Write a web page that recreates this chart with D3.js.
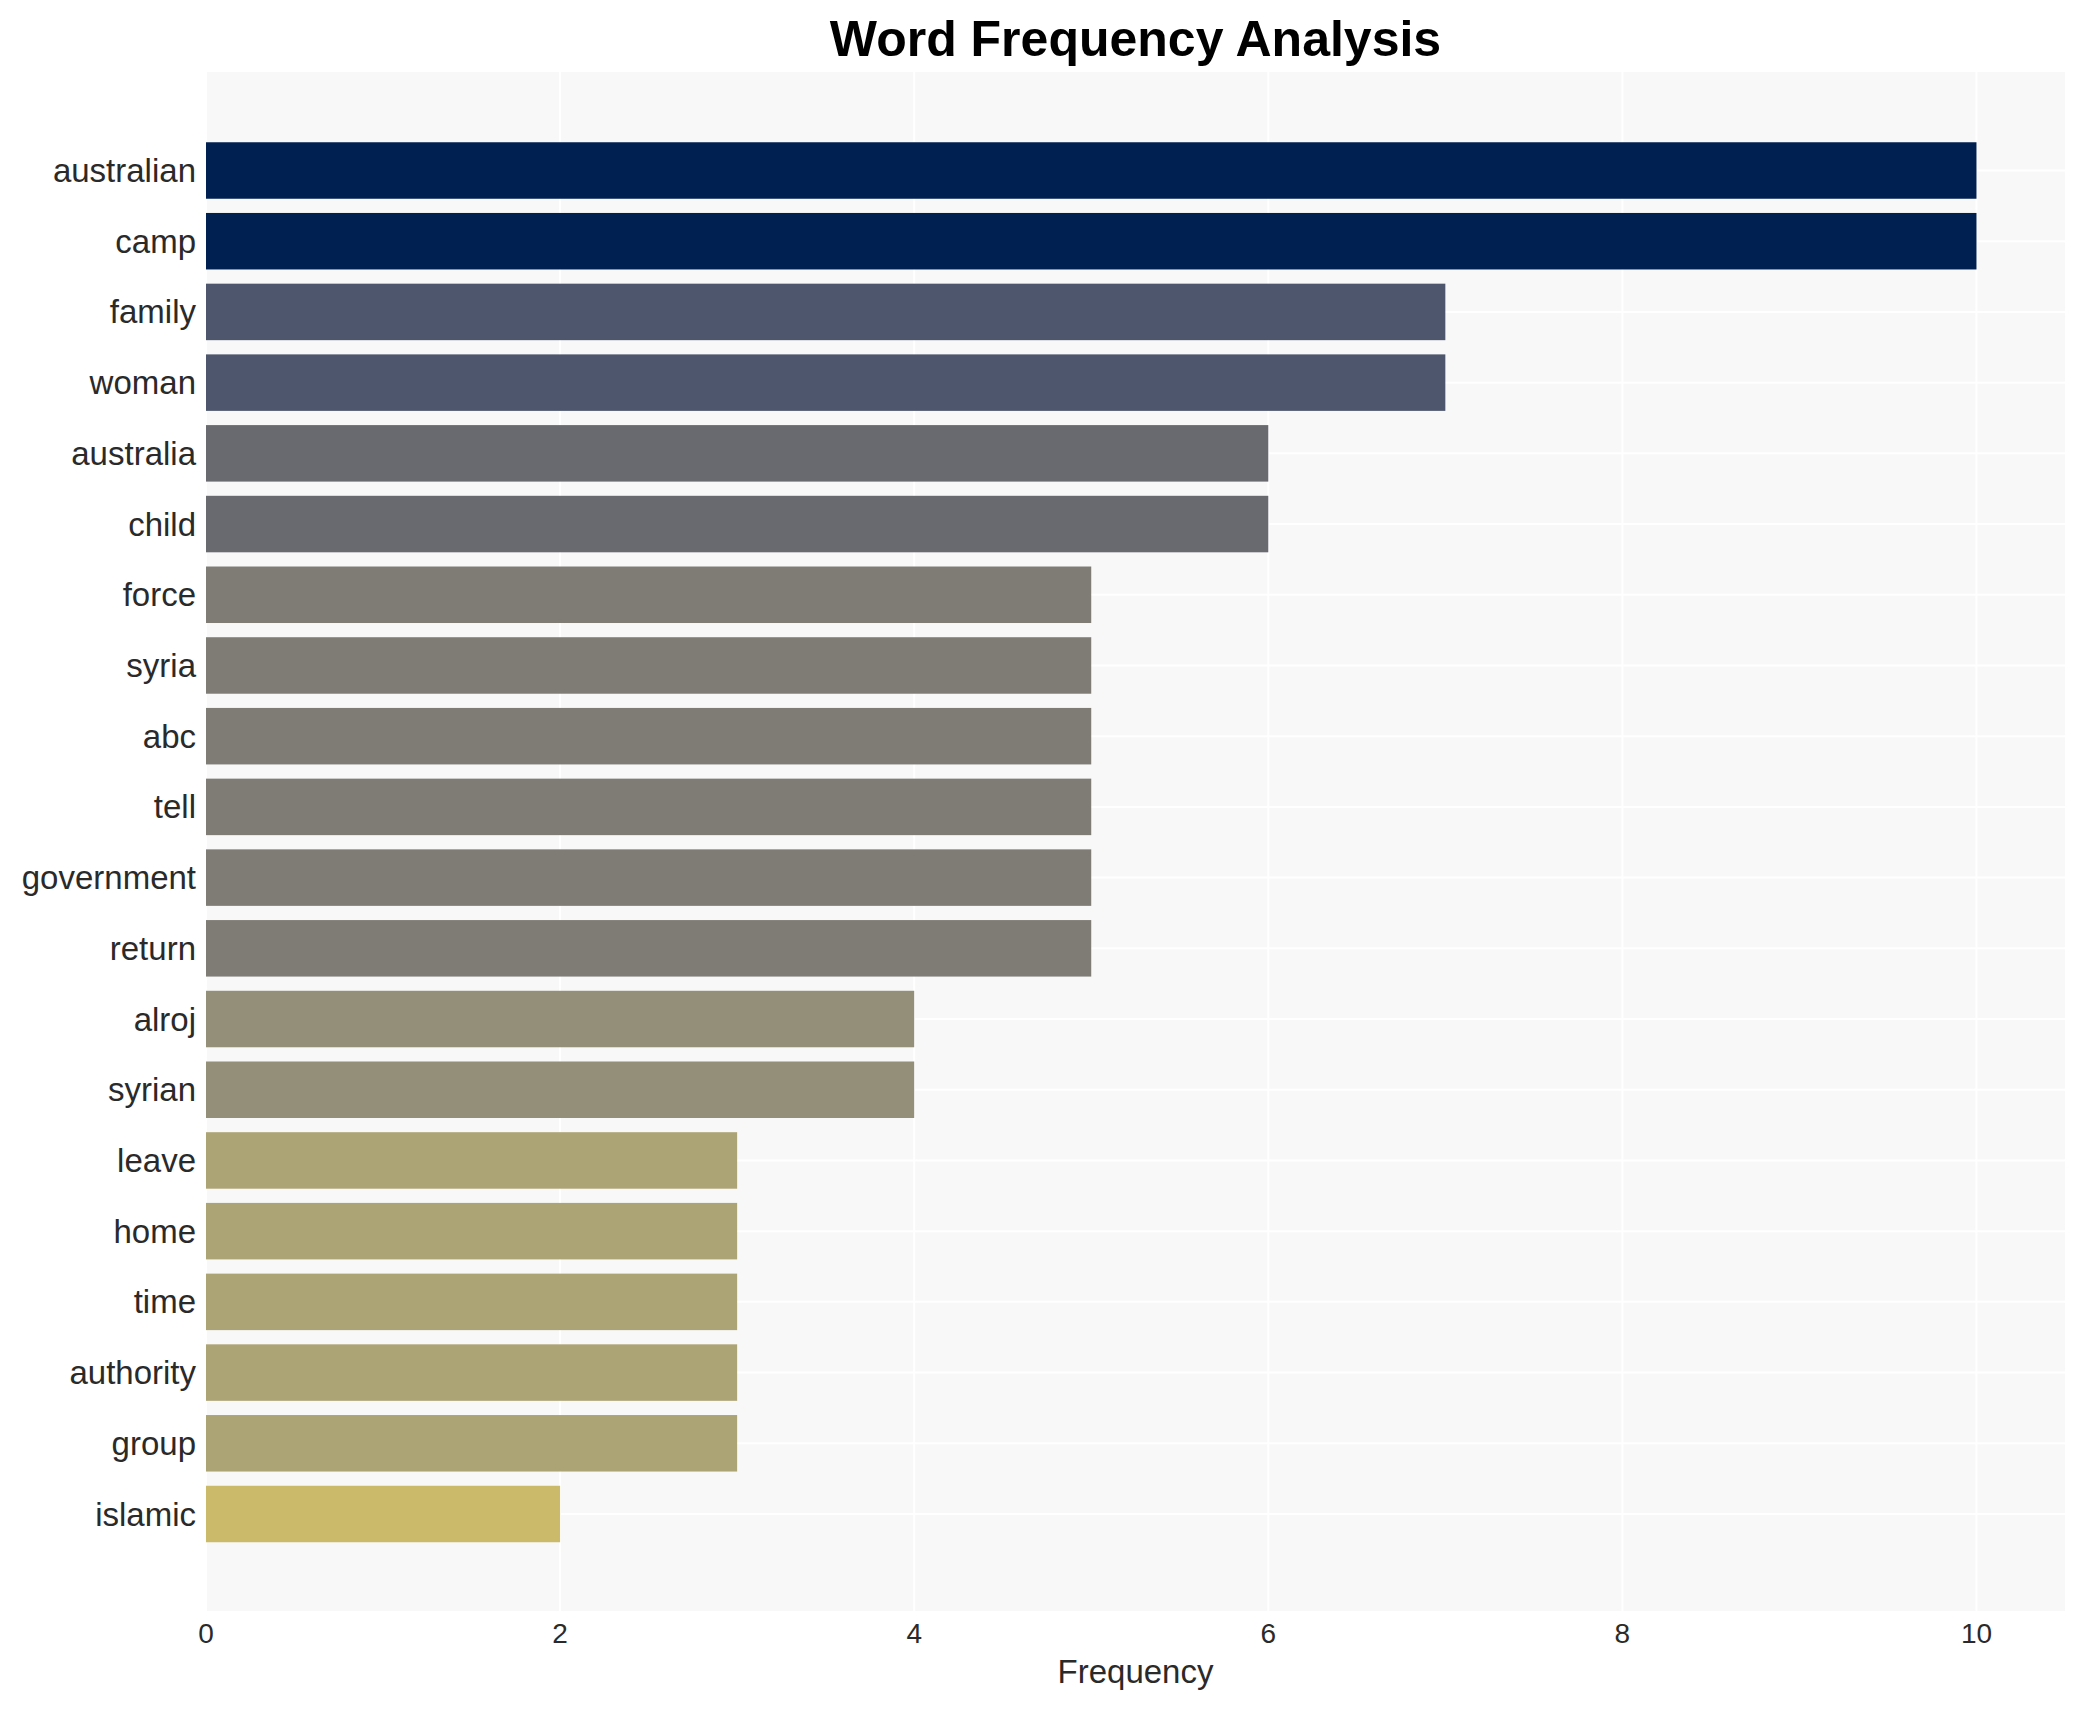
<!DOCTYPE html>
<html><head><meta charset="utf-8">
<script src="https://cdn.jsdelivr.net/npm/d3@7"></script>
<style>body{margin:0;background:#fff}svg{display:block;font-family:Arial,"Liberation Sans",sans-serif}</style>
</head><body>
<svg id="c" width="2085" height="1710"></svg>
<script>
const words = ["australian","camp","family","woman","australia","child","force","syria","abc","tell","government","return","alroj","syrian","leave","home","time","authority","group","islamic"];
const counts = [10,10,7,7,6,6,5,5,5,5,5,5,4,4,3,3,3,3,3,2];
const xTicks = [0,2,4,6,8,10];

const svg = d3.select("#c");
const L = 206, R = 2065, T = 72, B = 1611;
const x = d3.scaleLinear().domain([0, 10.5]).range([L, R]);
const yc = d3.scaleLinear().domain([0, words.length - 1]).range([170.5, 1514]);
const barH = 56.5;

svg.append("rect").attr("x", L).attr("y", T).attr("width", R - L).attr("height", B - T).attr("fill", "#f8f8f8");

// grid
svg.append("g").selectAll("line").data(xTicks).join("line")
  .attr("x1", d => x(d)).attr("x2", d => x(d)).attr("y1", T).attr("y2", B)
  .attr("stroke", "#fff").attr("stroke-width", 2);
svg.append("g").selectAll("line").data(words).join("line")
  .attr("x1", L).attr("x2", R).attr("y1", (d, i) => yc(i)).attr("y2", (d, i) => yc(i))
  .attr("stroke", "#fff").attr("stroke-width", 2);

// bars
svg.append("g").selectAll("rect").data(words).join("rect")
  .attr("x", x(0)).attr("y", (d, i) => yc(i) - barH / 2)
  .attr("width", (d, i) => x(counts[i]) - x(0)).attr("height", barH)
  .attr("fill", (d, i) => d3.interpolateCividis(1 - counts[i] / 10));

// y labels
svg.append("g").selectAll("text").data(words).join("text")
  .attr("x", 196).attr("y", (d, i) => yc(i)).attr("dy", "0.35em")
  .attr("text-anchor", "end").attr("font-size", 33).attr("fill", "#2a2a2a").text(d => d);

// x ticks
svg.append("g").selectAll("text").data(xTicks).join("text")
  .attr("x", d => x(d)).attr("y", 1643).attr("text-anchor", "middle")
  .attr("font-size", 28).attr("fill", "#2a2a2a").text(d => d);

svg.append("text").attr("x", (L + R) / 2).attr("y", 1683).attr("text-anchor", "middle")
  .attr("font-size", 33).attr("fill", "#2a2a2a").text("Frequency");

svg.append("text").attr("x", (L + R) / 2).attr("y", 56).attr("text-anchor", "middle")
  .attr("font-size", 50).attr("font-weight", "bold").attr("fill", "#000").text("Word Frequency Analysis");
</script>
</body></html>
